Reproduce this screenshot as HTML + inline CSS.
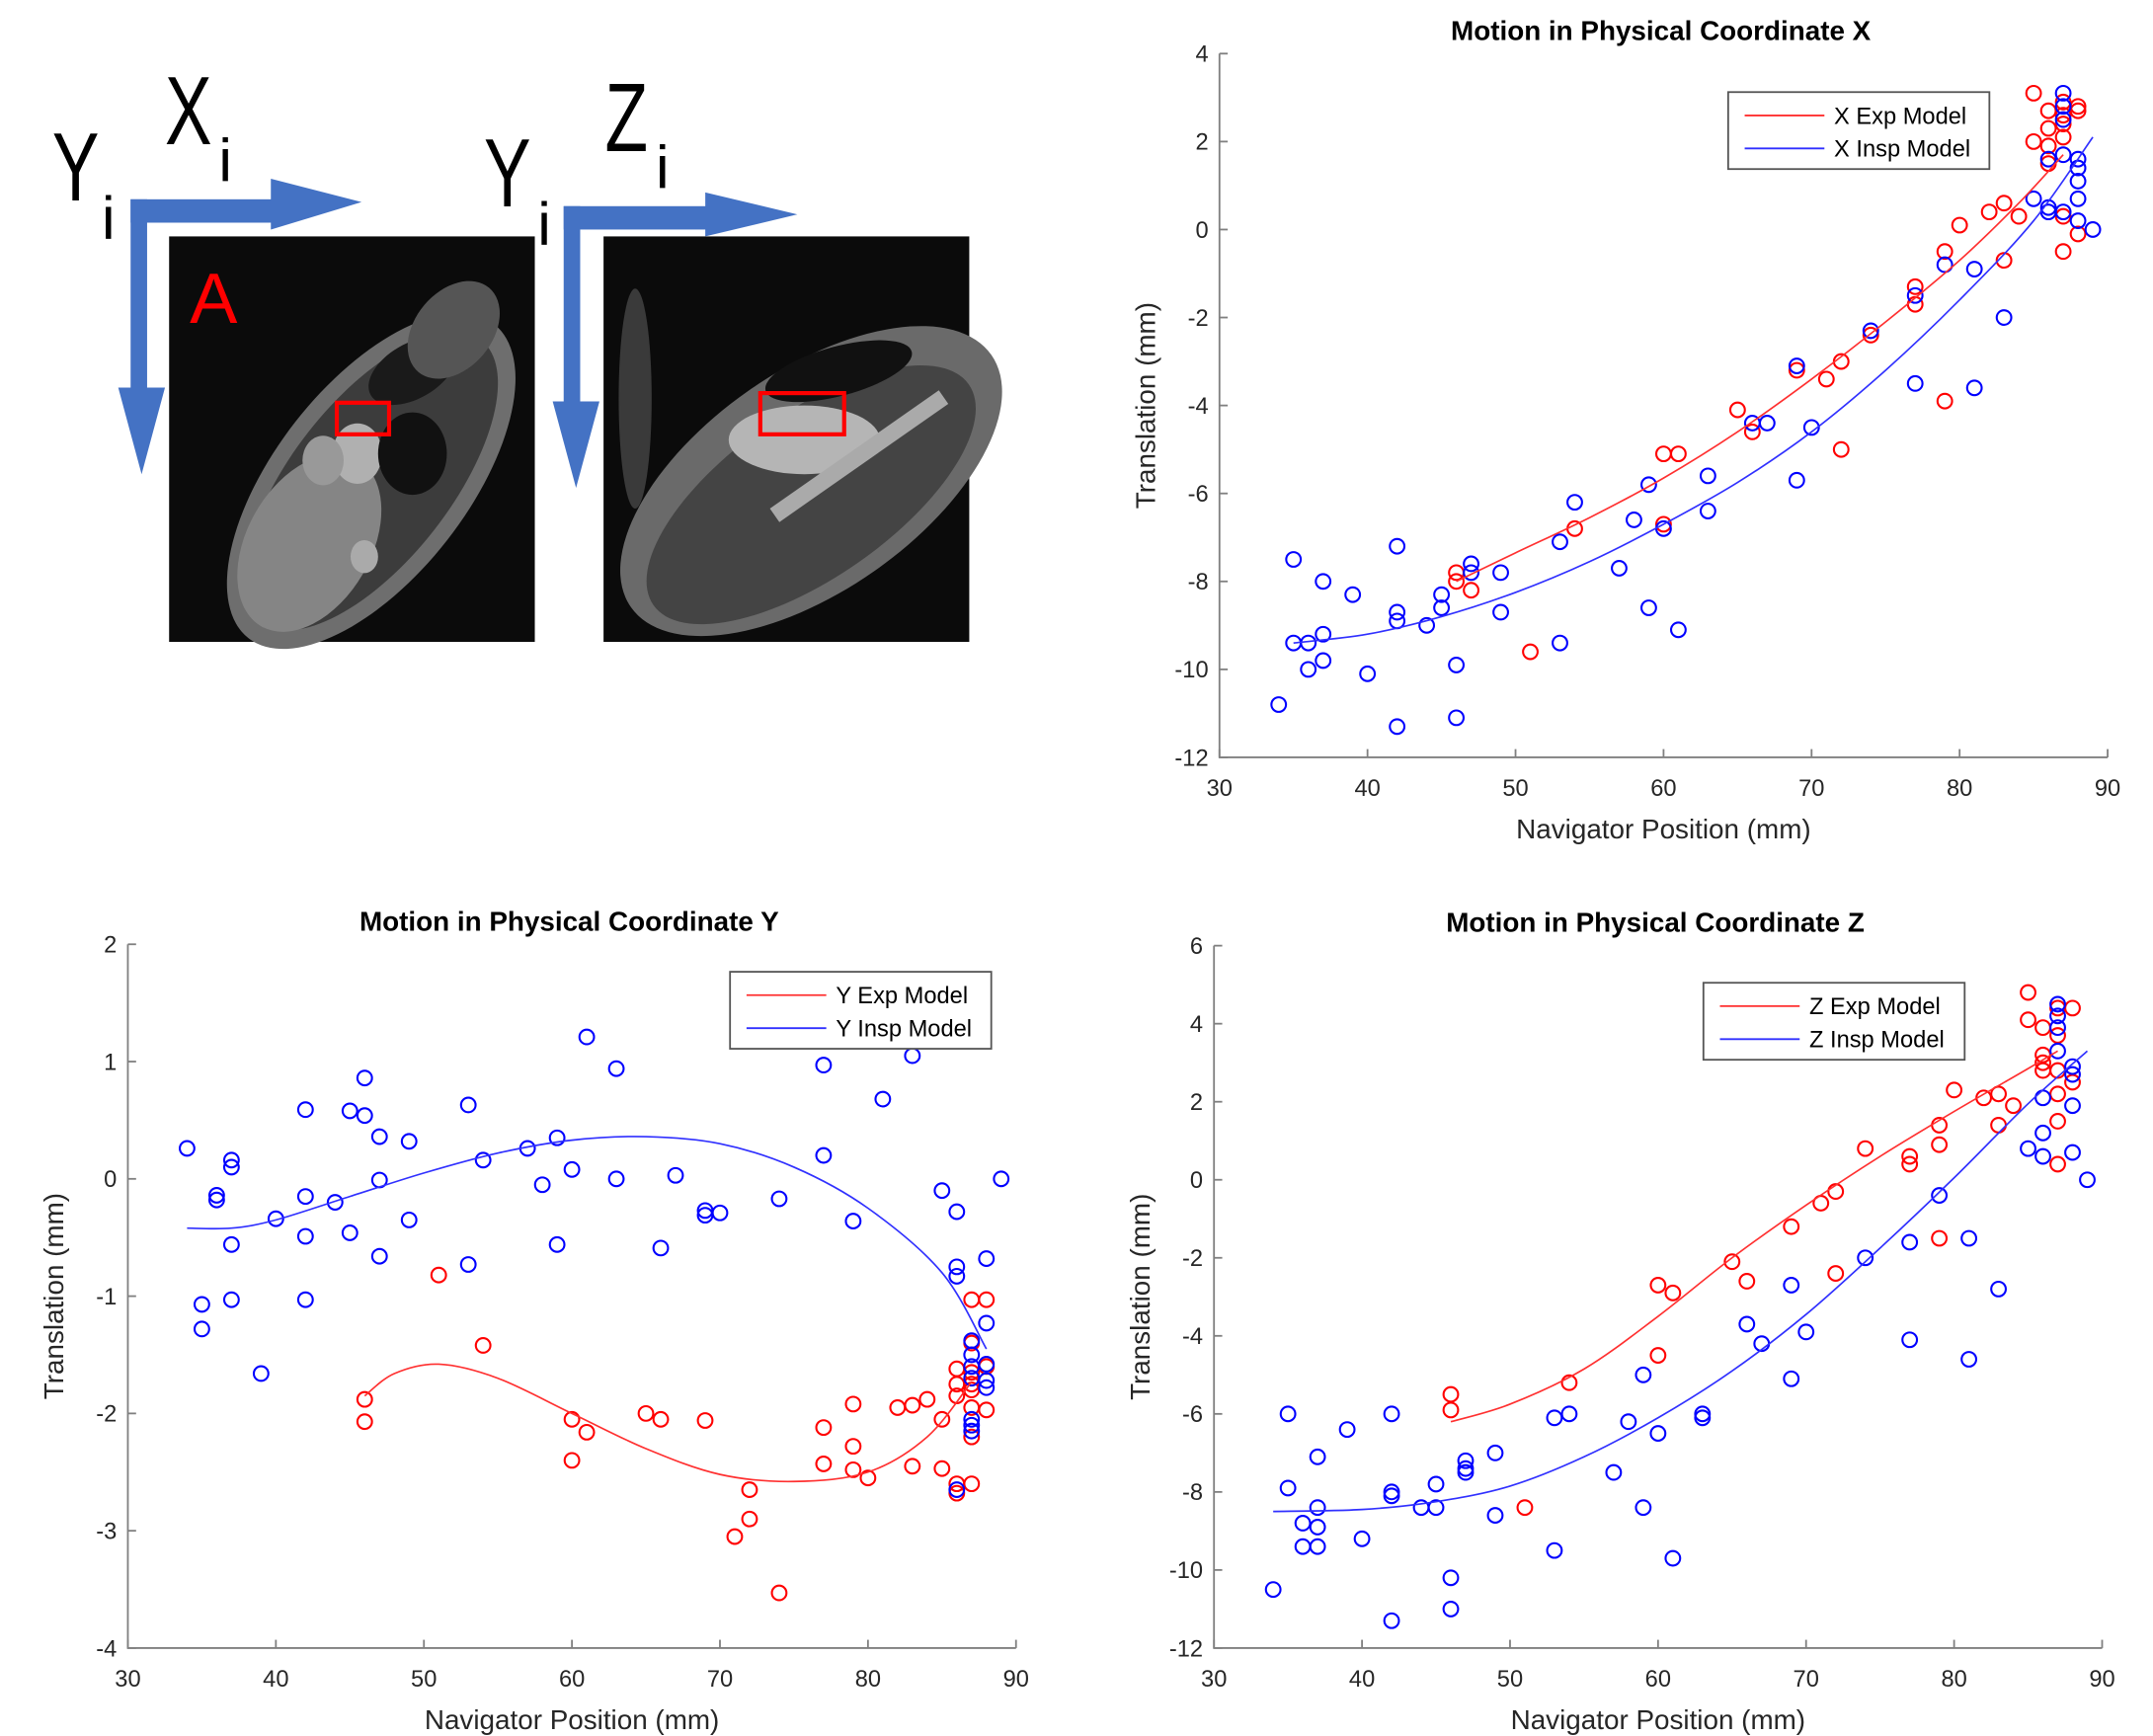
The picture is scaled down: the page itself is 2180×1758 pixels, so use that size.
<!DOCTYPE html>
<html><head><meta charset="utf-8"><style>
html,body{margin:0;padding:0;background:#fff;}
svg{display:block;font-family:"Liberation Sans",Arial,sans-serif;}
</style></head><body>
<svg id="fig" width="2180" height="1758" viewBox="0 0 1566 1263" preserveAspectRatio="none" xmlns="http://www.w3.org/2000/svg">
<rect x="0" y="0" width="1566" height="1263" fill="#fff"/>
<g id="panelA">
  <rect x="123" y="172" width="266" height="295" fill="#0b0b0b"/>
  <g>
    <ellipse cx="270" cy="350" rx="70" ry="145" transform="rotate(38 270 350)" fill="#6e6e6e"/>
    <ellipse cx="270" cy="350" rx="58" ry="130" transform="rotate(38 270 350)" fill="#3c3c3c"/>
    <ellipse cx="225" cy="395" rx="45" ry="70" transform="rotate(30 225 395)" fill="#858585"/>
    <ellipse cx="300" cy="270" rx="35" ry="20" transform="rotate(-30 300 270)" fill="#1a1a1a"/>
    <ellipse cx="260" cy="330" rx="18" ry="22" fill="#b0b0b0"/>
    <ellipse cx="235" cy="335" rx="15" ry="18" fill="#999"/>
    <ellipse cx="300" cy="330" rx="25" ry="30" fill="#111"/>
    <ellipse cx="265" cy="405" rx="10" ry="12" fill="#aaa"/>
    <ellipse cx="330" cy="240" rx="28" ry="40" transform="rotate(40 330 240)" fill="#555"/>
  </g>
  <rect x="439" y="172" width="266" height="295" fill="#0b0b0b"/>
  <g>
    <ellipse cx="590" cy="350" rx="160" ry="80" transform="rotate(-35 590 350)" fill="#6a6a6a"/>
    <ellipse cx="590" cy="360" rx="140" ry="60" transform="rotate(-35 590 360)" fill="#444"/>
    <ellipse cx="585" cy="320" rx="55" ry="25" fill="#b5b5b5"/>
    <ellipse cx="610" cy="270" rx="55" ry="18" transform="rotate(-15 610 270)" fill="#111"/>
    <rect x="560" y="370" width="150" height="12" transform="rotate(-35 560 370)" fill="#aaa"/>
    <ellipse cx="462" cy="290" rx="12" ry="80" fill="#3a3a3a"/>
  </g>
  <rect x="245" y="293" width="38" height="23" fill="none" stroke="#f00" stroke-width="3"/>
  <rect x="553" y="286" width="61" height="30" fill="none" stroke="#f00" stroke-width="3"/>
  <g fill="#4472c4">
    <rect x="95" y="145" width="104" height="17"/>
    <polygon points="197,130 263,147 197,167"/>
    <rect x="95" y="145" width="12" height="140"/>
    <polygon points="86,282 120,282 103,345"/>
  </g>
  <g fill="#4472c4">
    <rect x="410" y="150" width="104" height="17"/>
    <polygon points="513,140 580,156 513,172"/>
    <rect x="410" y="150" width="12" height="145"/>
    <polygon points="402,292 436,292 419,355"/>
  </g>
  <g transform="translate(38 146) scale(0.8 1.1)"><text x="0" y="0" font-size="64" fill="#000">Y</text></g>
  <text x="74" y="174" font-size="44" fill="#000">i</text>
  <g transform="translate(120 105) scale(0.8 1.1)"><text x="0" y="0" font-size="64" fill="#000">X</text></g>
  <text x="159" y="132" font-size="44" fill="#000">i</text>
  <g transform="translate(352 150) scale(0.8 1.1)"><text x="0" y="0" font-size="64" fill="#000">Y</text></g>
  <text x="391" y="178" font-size="44" fill="#000">i</text>
  <g transform="translate(440 110) scale(0.8 1.1)"><text x="0" y="0" font-size="64" fill="#000">Z</text></g>
  <text x="477" y="137" font-size="44" fill="#000">i</text>
  <text x="138" y="235" font-size="52" fill="#f00">A</text>
</g>
<g id="cx"></g><g id="cy"></g><g id="cz"></g>
</svg>
<script>
// ---- X chart data ----
const xRedX=[46,46,47,51,54,60,60,61,65,66,69,71,72,72,74,77,77,79,79,80,82,83,83,84,85,85,86,86,86,87,87,87,87,87,88,88,88,86,87];
const xRedY=[-7.8,-8.0,-8.2,-9.6,-6.8,-6.7,-5.1,-5.1,-4.1,-4.6,-3.2,-3.4,-3.0,-5.0,-2.4,-1.3,-1.7,-0.5,-3.9,0.1,0.4,0.6,-0.7,0.3,2.0,3.1,2.7,1.9,1.5,2.9,2.4,2.1,0.3,-0.5,2.8,2.7,-0.1,2.3,2.6];
const xBlueX=[34,35,35,36,36,37,37,37,39,40,42,42,42,42,44,45,45,46,46,47,47,49,49,53,53,54,57,58,59,59,60,61,63,63,66,67,69,69,70,74,77,77,79,81,81,83,85,86,86,86,87,87,87,87,88,88,88,88,88,89,87];
const xBlueY=[-10.8,-7.5,-9.4,-9.4,-10,-9.2,-9.8,-8.0,-8.3,-10.1,-7.2,-8.7,-8.9,-11.3,-9.0,-8.6,-8.3,-9.9,-11.1,-7.6,-7.8,-7.8,-8.7,-7.1,-9.4,-6.2,-7.7,-6.6,-5.8,-8.6,-6.8,-9.1,-5.6,-6.4,-4.4,-4.4,-3.1,-5.7,-4.5,-2.3,-1.5,-3.5,-0.8,-0.9,-3.6,-2.0,0.7,1.6,0.4,0.5,3.1,2.8,2.5,1.7,1.6,1.4,1.1,0.7,0.2,0.0,0.4];
const xExpModelX=[46,50,55,60,65,70,75,80,84,87];
const xExpModelY=[-8.0,-7.35,-6.55,-5.65,-4.6,-3.4,-2.1,-0.7,0.6,1.7];
const xInspModelX=[35,40,45,50,55,60,65,70,75,80,85,89];
const xInspModelY=[-9.4,-9.2,-8.8,-8.25,-7.55,-6.7,-5.75,-4.6,-3.2,-1.6,0.2,2.1];
// ---- Y chart data ----
const yBlueX=[34,35,35,36,36,37,37,37,37,39,40,42,42,42,42,44,45,45,46,46,47,47,47,49,49,53,53,54,57,58,59,59,60,61,63,63,66,67,69,69,70,74,77,77,79,81,83,85,86,86,86,86,87,87,87,87,87,87,87,88,88,88,88,88,89];
const yBlueY=[0.26,-1.07,-1.28,-0.14,-0.18,0.16,0.1,-0.56,-1.03,-1.66,-0.34,0.59,-0.15,-0.49,-1.03,-0.2,0.58,-0.46,0.54,0.86,0.36,-0.01,-0.66,0.32,-0.35,0.63,-0.73,0.16,0.26,-0.05,0.35,-0.56,0.08,1.21,0.94,0.0,-0.59,0.03,-0.27,-0.31,-0.29,-0.17,0.97,0.2,-0.36,0.68,1.05,-0.1,-0.28,-0.75,-0.83,-2.65,-1.38,-1.5,-1.6,-1.7,-2.05,-2.1,-2.15,-0.68,-1.23,-1.58,-1.72,-1.78,0.0];
const yRedX=[46,46,51,54,60,60,61,65,66,69,71,72,72,74,77,77,79,79,79,80,82,83,83,84,85,85,86,86,86,86,86,87,87,87,87,87,87,87,88,88,88,87];
const yRedY=[-1.88,-2.07,-0.82,-1.42,-2.05,-2.4,-2.16,-2.0,-2.05,-2.06,-3.05,-2.9,-2.65,-3.53,-2.12,-2.43,-1.92,-2.28,-2.48,-2.55,-1.95,-1.93,-2.45,-1.88,-2.05,-2.47,-1.62,-1.75,-1.85,-2.6,-2.68,-1.4,-1.03,-1.75,-1.8,-1.95,-2.2,-2.6,-1.03,-1.97,-1.6,-1.65];
const yExpModelX=[46,48,51,55,60,65,70,75,80,84,87];
const yExpModelY=[-1.85,-1.66,-1.58,-1.7,-2.0,-2.3,-2.52,-2.58,-2.5,-2.2,-1.73];
const yInspModelX=[34,37,40,45,50,55,60,65,70,75,80,85,88];
const yInspModelY=[-0.42,-0.42,-0.35,-0.15,0.05,0.22,0.33,0.36,0.3,0.1,-0.25,-0.8,-1.45];
// ---- Z chart data ----
const zRedX=[46,46,51,54,60,60,61,65,66,69,71,72,72,74,77,77,79,79,79,80,82,83,83,84,85,85,86,86,86,86,87,87,87,87,87,87,88,88];
const zRedY=[-5.5,-5.9,-8.4,-5.2,-2.7,-4.5,-2.9,-2.1,-2.6,-1.2,-0.6,-0.3,-2.4,0.8,0.6,0.4,1.4,0.9,-1.5,2.3,2.1,2.2,1.4,1.9,4.8,4.1,3.9,3.2,3.0,2.8,4.4,3.7,2.8,2.2,1.5,0.4,4.4,2.5];
const zBlueX=[34,35,35,36,36,37,37,37,37,39,40,42,42,42,42,44,45,45,46,46,47,47,47,49,49,53,53,54,57,58,59,59,60,61,63,63,66,67,69,69,70,74,77,77,79,81,81,83,85,86,86,86,87,87,87,87,88,88,88,88,89];
const zBlueY=[-10.5,-6.0,-7.9,-8.8,-9.4,-7.1,-8.4,-8.9,-9.4,-6.4,-9.2,-6.0,-8.0,-8.1,-11.3,-8.4,-7.8,-8.4,-10.2,-11.0,-7.2,-7.4,-7.5,-7.0,-8.6,-6.1,-9.5,-6.0,-7.5,-6.2,-5.0,-8.4,-6.5,-9.7,-6.0,-6.1,-3.7,-4.2,-2.7,-5.1,-3.9,-2.0,-1.6,-4.1,-0.4,-1.5,-4.6,-2.8,0.8,2.1,1.2,0.6,4.5,4.2,3.9,3.3,2.9,2.7,1.9,0.7,0.0];
const zExpModelX=[46,50,55,60,65,70,75,80,85,87];
const zExpModelY=[-6.2,-5.75,-4.85,-3.5,-2.0,-0.65,0.6,1.75,2.85,3.3];
const zInspModelX=[34,40,45,50,55,60,65,70,75,80,85,89];
const zInspModelY=[-8.5,-8.45,-8.25,-7.85,-7.1,-6.1,-4.9,-3.45,-1.75,0.05,1.95,3.3];
const xTicks=[30,40,50,60,70,80,90];
const yTicksX=[-12,-10,-8,-6,-4,-2,0,2,4];
const yTicksY=[-4,-3,-2,-1,0,1,2];
const yTicksZ=[-12,-10,-8,-6,-4,-2,0,2,4,6];

const NS='http://www.w3.org/2000/svg';
function mk(parent,tag,attrs,txt){const e=document.createElementNS(NS,tag);for(const k in attrs)e.setAttribute(k,attrs[k]);if(txt!==undefined)e.textContent=txt;parent.appendChild(e);return e;}

function chart(g,cfg){
  const sx=v=>cfg.L+(v-30)/60*(cfg.R-cfg.L);
  const sy=v=>cfg.B-(v-cfg.ymin)/(cfg.ymax-cfg.ymin)*(cfg.B-cfg.T);
  const ax=mk(g,'path',{d:`M${cfg.L},${cfg.T}V${cfg.B}H${cfg.R}`,fill:'none',stroke:'#808080','stroke-width':1.3});
  
  
  xTicks.forEach(t=>{
    const x=sx(t);
    const tk=mk(g,'line',{x1:x,x2:x,y1:cfg.B,y2:cfg.B-6,stroke:'#808080','stroke-width':1.3});
    
    
    const tl=mk(g,'text',{x:x,y:cfg.B+28,'font-size':17,fill:'#262626','text-anchor':'middle'},String(t));
    
    
  });
  cfg.yt.forEach(t=>{
    const y=sy(t);
    const tk=mk(g,'line',{x1:cfg.L,x2:cfg.L+6,y1:y,y2:y,stroke:'#808080','stroke-width':1.3});
    
    
    const tl=mk(g,'text',{x:cfg.L-8,y:y+6,'font-size':17,fill:'#262626','text-anchor':'end'},String(t));
    
    
  });
  const ti=mk(g,'text',{x:(cfg.L+cfg.R)/2-2,y:cfg.T-10,'font-size':20,'font-weight':'bold',fill:'#000','text-anchor':'middle'},cfg.title);
  
  
  const xl=mk(g,'text',{x:(cfg.L+cfg.R)/2,y:cfg.B+59,'font-size':20,fill:'#262626','text-anchor':'middle'},'Navigator Position (mm)');
  
  
  const ym=(cfg.T+cfg.B)/2;
  const yl=mk(g,'text',{x:cfg.L-47,y:ym,'font-size':20,fill:'#262626','text-anchor':'middle',transform:`rotate(-90 ${cfg.L-47} ${ym})`},'Translation (mm)');
  
  
  function pts(xs,ys,col,name){
    xs.forEach((v,i)=>{
      const c=mk(g,'circle',{cx:sx(v),cy:sy(ys[i]),r:5.3,fill:'none',stroke:col,'stroke-width':1.5});
      
      
    });
  }
  function line(xs,ys,col,name){
    const p=xs.map((v,i)=>[sx(v),sy(ys[i])]);
    let d=`M${p[0][0]},${p[0][1]}`;
    for(let i=0;i<p.length-1;i++){
      const p0=p[Math.max(0,i-1)],p1=p[i],p2=p[i+1],p3=p[Math.min(p.length-1,i+2)];
      d+=`C${p1[0]+(p2[0]-p0[0])/6},${p1[1]+(p2[1]-p0[1])/6} ${p2[0]-(p3[0]-p1[0])/6},${p2[1]-(p3[1]-p1[1])/6} ${p2[0]},${p2[1]}`;
    }
    const l=mk(g,'path',{d:d,fill:'none',stroke:col,'stroke-width':1.2});
    
    
  }
  pts(cfg.rx,cfg.ry,'#ff0000','exp-point');
  pts(cfg.bx,cfg.by,'#0000ff','insp-point');
  line(cfg.emx,cfg.emy,'#ff3030','exp-model-line');
  line(cfg.imx,cfg.imy,'#3030ff','insp-model-line');
  const lg=mk(g,'g',{});
  
  
  mk(lg,'rect',{x:cfg.lx,y:cfg.ly,width:190,height:56,fill:'#fff',stroke:'#555','stroke-width':1.3});
  mk(lg,'line',{x1:cfg.lx+12,x2:cfg.lx+70,y1:cfg.ly+17,y2:cfg.ly+17,stroke:'#ff3030','stroke-width':1.3});
  mk(lg,'line',{x1:cfg.lx+12,x2:cfg.lx+70,y1:cfg.ly+41,y2:cfg.ly+41,stroke:'#3030ff','stroke-width':1.3});
  const e1=mk(lg,'text',{x:cfg.lx+77,y:cfg.ly+23,'font-size':17,fill:'#000'},cfg.axis+' Exp Model');
  
  
  const e2=mk(lg,'text',{x:cfg.lx+77,y:cfg.ly+47,'font-size':17,fill:'#000'},cfg.axis+' Insp Model');
  
  
}
const gx=document.getElementById('cx');


chart(gx,{L:887,R:1533,T:39,B:551,ymin:-12,ymax:4,yt:yTicksX,title:'Motion in Physical Coordinate X',axis:'X',
  rx:xRedX,ry:xRedY,bx:xBlueX,by:xBlueY,emx:xExpModelX,emy:xExpModelY,imx:xInspModelX,imy:xInspModelY,lx:1257,ly:67});
const gy=document.getElementById('cy');


chart(gy,{L:93,R:739,T:687,B:1199,ymin:-4,ymax:2,yt:yTicksY,title:'Motion in Physical Coordinate Y',axis:'Y',
  rx:yRedX,ry:yRedY,bx:yBlueX,by:yBlueY,emx:yExpModelX,emy:yExpModelY,imx:yInspModelX,imy:yInspModelY,lx:531,ly:707});
const gz=document.getElementById('cz');


chart(gz,{L:883,R:1529,T:688,B:1199,ymin:-12,ymax:6,yt:yTicksZ,title:'Motion in Physical Coordinate Z',axis:'Z',
  rx:zRedX,ry:zRedY,bx:zBlueX,by:zBlueY,emx:zExpModelX,emy:zExpModelY,imx:zInspModelX,imy:zInspModelY,lx:1239,ly:715});
</script>
</body></html>
